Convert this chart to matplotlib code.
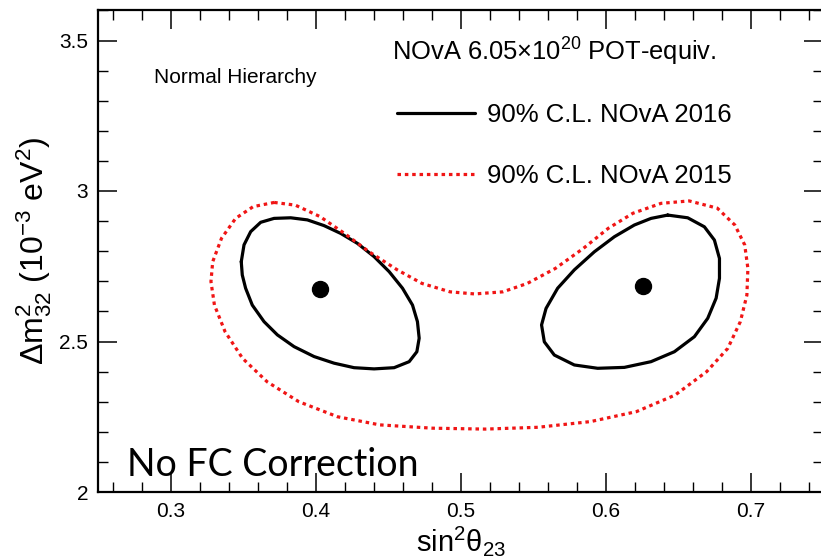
import matplotlib
matplotlib.use("Agg")
import matplotlib.pyplot as plt
from matplotlib.ticker import MultipleLocator, FormatStrFormatter

plt.rcParams['font.family'] = ['Liberation Sans', 'DejaVu Sans']
plt.rcParams['mathtext.fontset'] = 'custom'
plt.rcParams['mathtext.rm'] = 'Liberation Sans'
plt.rcParams['mathtext.it'] = 'Liberation Sans:italic'
plt.rcParams['mathtext.bf'] = 'Liberation Sans:bold'

# ---- data (sin^2 theta23, dm^2_32 in 1e-3 eV^2) ----
left_2016_x = [0.3488, 0.3507, 0.3553, 0.3622, 0.3714, 0.3829, 0.3944, 0.4059, 0.4174, 0.4289,
               0.4404, 0.4508, 0.4600, 0.4669, 0.4703, 0.4715, 0.4699, 0.4646, 0.4542, 0.4404,
               0.4266, 0.4128, 0.3990, 0.3852, 0.3737, 0.3645, 0.3564, 0.3518, 0.3495, 0.3488]
left_2016_y = [2.765, 2.821, 2.865, 2.896, 2.909, 2.911, 2.904, 2.885, 2.859, 2.826,
               2.782, 2.732, 2.677, 2.621, 2.566, 2.511, 2.466, 2.433, 2.413, 2.409,
               2.413, 2.428, 2.450, 2.483, 2.522, 2.566, 2.621, 2.677, 2.721, 2.765]

right_2016_x = [0.6429, 0.6567, 0.6682, 0.6751, 0.6786, 0.6786, 0.6763, 0.6705, 0.6613, 0.6475,
                0.6314, 0.6130, 0.5946, 0.5785, 0.5647, 0.5578, 0.5559, 0.5590, 0.5670, 0.5785,
                0.5923, 0.6061, 0.6199, 0.6314, 0.6429]
right_2016_y = [2.920, 2.911, 2.881, 2.837, 2.776, 2.710, 2.644, 2.577, 2.516, 2.466,
                2.433, 2.414, 2.411, 2.422, 2.455, 2.499, 2.555, 2.610, 2.677, 2.738,
                2.798, 2.848, 2.887, 2.909, 2.920]

cl_2015_x = [0.3715, 0.3861, 0.4031, 0.4200, 0.4370, 0.4564, 0.4734, 0.4928, 0.5098, 0.5292,
             0.5461, 0.5655, 0.5849, 0.6019, 0.6189, 0.6383, 0.6577, 0.6771, 0.6892, 0.6960,
             0.6982, 0.6975, 0.6930, 0.6843, 0.6698, 0.6480, 0.6213, 0.5898, 0.5534, 0.5171,
             0.4807, 0.4443, 0.4152, 0.3885, 0.3667, 0.3497, 0.3376, 0.3303, 0.3279, 0.3291,
             0.3352, 0.3449, 0.3570, 0.3715]
cl_2015_y = [2.962, 2.953, 2.915, 2.859, 2.798, 2.738, 2.693, 2.665, 2.658, 2.665,
             2.693, 2.743, 2.810, 2.876, 2.926, 2.959, 2.967, 2.943, 2.887, 2.821,
             2.743, 2.654, 2.566, 2.477, 2.400, 2.322, 2.267, 2.234, 2.215, 2.209,
             2.212, 2.223, 2.250, 2.300, 2.366, 2.444, 2.533, 2.621, 2.699, 2.765,
             2.843, 2.909, 2.948, 2.962]

best_fit_x = [0.403, 0.626]
best_fit_y = [2.675, 2.684]

x_ticks = [0.3, 0.4, 0.5, 0.6, 0.7]
y_ticks = [2.0, 2.5, 3.0, 3.5]

label_2016 = "90% C.L. NOvA 2016"
label_2015 = "90% C.L. NOvA 2015"

# ---- figure ----
fig = plt.figure(figsize=(8.21, 5.6), dpi=100)
ax = fig.add_axes([98/821, 1 - 492/560, 725/821, (492 - 10.4)/560])

l16, = ax.plot(left_2016_x, left_2016_y, color='black', lw=2.3, solid_joinstyle='round',
               solid_capstyle='round', label=label_2016)
ax.plot(right_2016_x, right_2016_y, color='black', lw=2.3, solid_joinstyle='round',
        solid_capstyle='round')
l15, = ax.plot(cl_2015_x, cl_2015_y, color='#f01515', lw=2.3, linestyle=(0, (1.1, 1.2)),
               label=label_2015)
ax.plot(best_fit_x, best_fit_y, 'o', color='black', ms=11.5)

ax.set_xlim(0.25, 0.75)
ax.set_ylim(2.0, 3.6)
ax.set_xticks(x_ticks)
ax.set_yticks(y_ticks)
ax.xaxis.set_minor_locator(MultipleLocator(0.02))
ax.yaxis.set_minor_locator(MultipleLocator(0.1))
ax.xaxis.set_major_formatter(FormatStrFormatter('%g'))
ax.yaxis.set_major_formatter(FormatStrFormatter('%g'))
ax.tick_params(which='both', direction='in', top=True, right=True, labelsize=15)
ax.tick_params(which='major', length=14, width=1.1, pad=7)
ax.tick_params(which='minor', length=7, width=1.0)
for s in ax.spines.values():
    s.set_linewidth(1.6)

ax.set_xlabel(r'sin$^{2}$θ$_{23}$', fontsize=21, labelpad=2)
ax.set_ylabel(r'Δ$\mathrm{m}^{2}_{32}$ (10$^{-3}$ eV$^{2}$)', fontsize=23, labelpad=4)

ax.text(0.2885, 3.358, 'Normal Hierarchy', fontsize=15, ha='left', va='baseline')
ax.text(0.4528, 3.433, r'NOvA 6.05$\times$10$^{20}$ POT-equiv.', fontsize=18.4,
        ha='left', va='baseline')
ax.text(0.2699, 2.053, 'No FC Correction', fontsize=27, ha='left', va='baseline',
        family=['Lato', 'DejaVu Sans'])

ax.legend(handles=[l16, l15], loc='upper left', bbox_to_anchor=(397/821, 1 - 103/560),
          bbox_transform=fig.transFigure, frameon=False, fontsize=18.5, borderpad=0,
          borderaxespad=0, handlelength=3.05, handletextpad=0.45, labelspacing=1.45)

fig.savefig('out.png', dpi=100)
